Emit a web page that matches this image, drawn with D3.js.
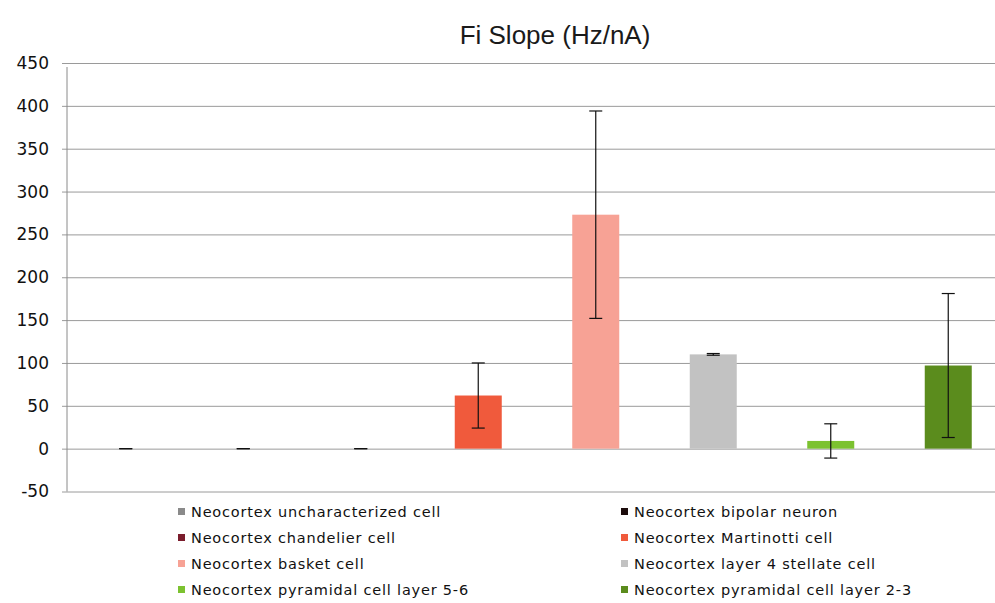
<!DOCTYPE html>
<html>
<head>
<meta charset="utf-8">
<script src="https://cdn.jsdelivr.net/npm/d3@7"></script>
<style>
  body { margin: 0; background: #fff; }
  svg { display: block; }
</style>
</head>
<body>
<svg id="chart" width="995" height="603"></svg>
<script>
  // chart data
  const categories = [
    "Neocortex uncharacterized cell",
    "Neocortex bipolar neuron",
    "Neocortex chandelier cell",
    "Neocortex Martinotti cell",
    "Neocortex basket cell",
    "Neocortex layer 4 stellate cell",
    "Neocortex pyramidal cell layer 5-6",
    "Neocortex pyramidal cell layer 2-3"
  ];
  const means = [0, 0, 0, 62, 273, 110, 9, 97];
  const errors = [0, 0, 0, 38, 121, 1, 20, 84];
  const colors = ["#8a8a8a", "#1c0c0c", "#7a1c2c", "#f05a3c", "#f7a295", "#c2c2c2", "#7cc230", "#5b8c1d"];
  const yTicks = [-50, 0, 50, 100, 150, 200, 250, 300, 350, 400, 450];

  const svg = d3.select("#chart");
  const margin = { top: 63, left: 67, bottom: 491.5 };
  const plotWidth = 940;

  const x = d3.scaleBand().domain(categories).range([margin.left, margin.left + plotWidth])
    .paddingInner(0.6).paddingOuter(0.3);
  const y = d3.scaleLinear().domain([-50, 450]).range([margin.bottom, margin.top]);

  // title
  svg.append("text")
    .attr("x", 555).attr("y", 44)
    .attr("text-anchor", "middle")
    .style("font-family", "Liberation Sans, Arial, sans-serif")
    .style("font-size", "26px")
    .attr("fill", "#1a1a1a")
    .text("Fi Slope (Hz/nA)");

  // gridlines + y labels
  const yAxis = d3.axisLeft(y).tickValues(yTicks)
    .tickFormat(d => String(d))
    .tickSize(-(995 - margin.left + 5)).tickPadding(13);
  const gy = svg.append("g")
    .attr("transform", `translate(${margin.left - 5},0)`)
    .call(yAxis);
  gy.select(".domain").remove();
  gy.selectAll(".tick line").attr("stroke", "#9a9a9a").attr("stroke-width", 1);
  gy.selectAll(".tick text")
    .style("font-family", "DejaVu Sans, Verdana, sans-serif")
    .style("font-size", "17px")
    .attr("fill", "#111");

  // y axis line
  svg.append("line")
    .attr("x1", margin.left).attr("x2", margin.left)
    .attr("y1", y(450) + 4).attr("y2", y(-50))
    .attr("stroke", "#8a8a8a");

  // bars
  svg.selectAll("rect.bar")
    .data(categories)
    .join("rect")
    .attr("class", "bar")
    .attr("x", d => x(d))
    .attr("width", x.bandwidth())
    .attr("y", (d, i) => y(Math.max(0, means[i])))
    .attr("height", (d, i) => Math.abs(y(means[i]) - y(0)))
    .attr("fill", (d, i) => colors[i]);

  // error bars
  const capW = 13;
  const eb = svg.append("g").attr("stroke", "#111").attr("stroke-width", 1.2);
  categories.forEach((c, i) => {
    const cx = x(c) + x.bandwidth() / 2;
    const top = y(means[i] + errors[i]);
    const bot = y(means[i] - errors[i]);
    eb.append("line").attr("x1", cx).attr("x2", cx).attr("y1", top).attr("y2", bot);
    eb.append("line").attr("x1", cx - capW / 2).attr("x2", cx + capW / 2).attr("y1", top).attr("y2", top);
    eb.append("line").attr("x1", cx - capW / 2).attr("x2", cx + capW / 2).attr("y1", bot).attr("y2", bot);
  });

  // legend, two columns
  const legend = svg.append("g");
  categories.forEach((c, i) => {
    const col = i % 2;
    const row = Math.floor(i / 2);
    const lx = col === 0 ? 178 : 621;
    const ly = 512 + row * 26;
    legend.append("rect")
      .attr("x", lx).attr("y", ly - 4)
      .attr("width", 7).attr("height", 7)
      .attr("fill", colors[i]);
    legend.append("text")
      .attr("x", lx + 13).attr("y", ly + 5)
      .style("font-family", "DejaVu Sans, Verdana, sans-serif")
      .style("font-size", "14.5px")
      .style("letter-spacing", "0.8px")
      .attr("fill", "#111")
      .text(c);
  });
</script>
</body>
</html>
